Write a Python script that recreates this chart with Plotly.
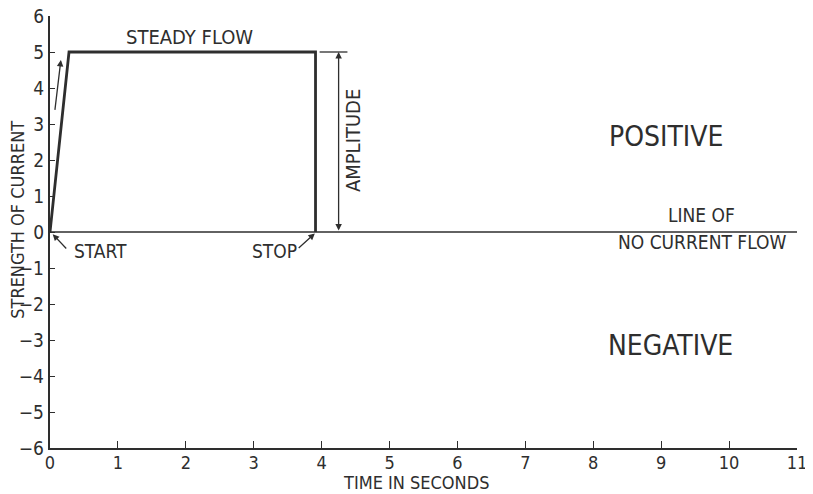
import plotly.graph_objects as go

# Data
pulse_time = [0, 0.28, 3.91, 3.91]
pulse_current = [0, 5, 5, 0]
baseline_time = [0, 11]
baseline_current = [0, 0]
x_ticks = list(range(0, 12))
y_ticks = list(range(-6, 7))
amplitude_x = 4.25
amplitude_top = 5
amplitude_bottom = 0

FONT = "DejaVu Sans Condensed, Liberation Sans Narrow, sans-serif"
INK = "#2e2e2e"

fig = go.Figure()
fig.add_trace(go.Scatter(x=baseline_time, y=baseline_current, mode="lines",
                         line=dict(color=INK, width=1.6), hoverinfo="skip"))
fig.add_trace(go.Scatter(x=pulse_time, y=pulse_current, mode="lines",
                         line=dict(color=INK, width=2.8), hoverinfo="skip"))

ann = []
def txt(x, y, s, size=19, angle=0, xanchor="center", xref="x", yref="y"):
    ann.append(dict(x=x, y=y, xref=xref, yref=yref, text=s, showarrow=False,
                    font=dict(family=FONT, size=size, color=INK),
                    textangle=angle, xanchor=xanchor, yanchor="middle"))

txt(2.06, 5.42, "STEADY FLOW", 20)
txt(4.46, 2.55, "AMPLITUDE", 20, angle=-90)
txt(9.07, 2.66, "POSITIVE", 28)
txt(9.13, -3.16, "NEGATIVE", 28)
txt(9.6, 0.47, "LINE OF", 19)
txt(9.6, -0.28, "NO CURRENT FLOW", 19)
txt(0.74, -0.52, "START", 19)
txt(3.31, -0.52, "STOP", 19)
txt(0.49, -0.081, "TIME IN SECONDS", 18, xref="paper", yref="paper")
txt(-0.043, 0.528, "STRENGTH OF CURRENT", 18, angle=-90, xref="paper", yref="paper")

# arrows
def arrow(x, y, ax, ay, side="end", width=1.3, size=1.0):
    ann.append(dict(x=x, y=y, ax=ax, ay=ay, xref="x", yref="y", axref="x", ayref="y",
                    text="", showarrow=True, arrowhead=2, arrowsize=size,
                    arrowwidth=width, arrowcolor=INK, arrowside=side))

arrow(0.16, 4.78, 0.07, 3.35)                      # rising arrow
arrow(0.04, -0.06, 0.26, -0.5)                     # START pointer
arrow(3.9, -0.04, 3.64, -0.48)                     # STOP pointer
arrow(amplitude_x, amplitude_top, amplitude_x, amplitude_bottom, side="end+start")

fig.add_shape(type="line", x0=3.97, x1=4.38, y0=amplitude_top, y1=amplitude_top,
              xref="x", yref="y", line=dict(color=INK, width=1.3))

fig.update_layout(
    width=813, height=494,
    margin=dict(l=42, r=24, t=8, b=54),
    paper_bgcolor="white", plot_bgcolor="white",
    showlegend=False,
    annotations=ann,
    font=dict(family=FONT, color=INK),
)
fig.update_xaxes(range=[0, 11], tickvals=x_ticks, ticks="inside", ticklen=7, tickwidth=1.3,
                 tickcolor=INK, showline=True, linecolor=INK, linewidth=2.4, showgrid=False,
                 zeroline=False, automargin=False, ticklabelstandoff=-3,
                 ticklabeloverflow="allow",
                 tickfont=dict(size=18, family=FONT, color=INK))
fig.update_yaxes(range=[-6, 6], tickvals=y_ticks, ticks="inside", ticklen=5, tickwidth=1.3,
                 tickcolor=INK, showline=True, linecolor=INK, linewidth=2.4, showgrid=False,
                 zeroline=False, automargin=False, ticklabeloverflow="allow",
                 tickfont=dict(size=19, family=FONT, color=INK))

fig.write_html("out.html")
